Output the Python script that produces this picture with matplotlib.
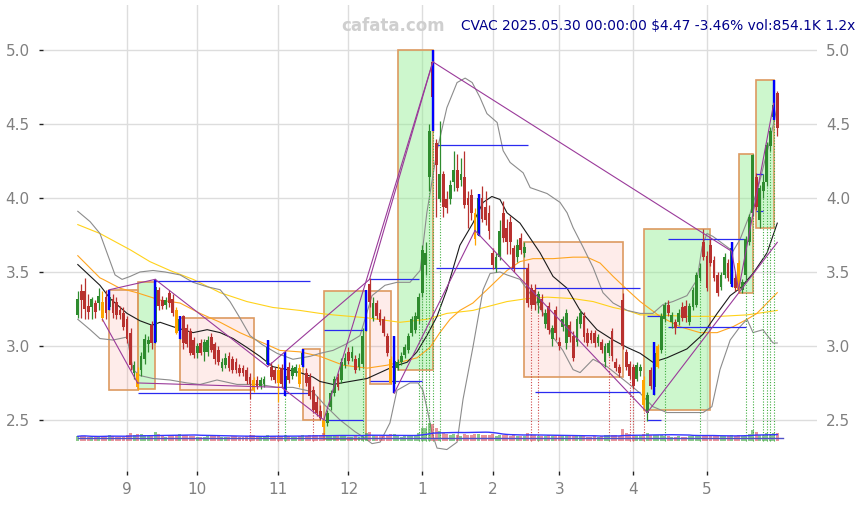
import numpy as np
import pandas as pd
import matplotlib
matplotlib.use("Agg")
import matplotlib.pyplot as plt
from matplotlib.patches import Rectangle

# ---------------- data ----------------
holidays = ["2024-09-02", "2024-11-28", "2024-12-25", "2025-01-01", "2025-01-09",
            "2025-01-20", "2025-02-17", "2025-04-18", "2025-05-26"]
dates = pd.bdate_range("2024-08-13", "2025-05-30", freq="C", holidays=holidays)

opens = [3.21, 3.37, 3.37, 3.27, 3.26, 3.29, 3.29, 3.30, 3.33, 3.26,
         3.32, 3.30, 3.24, 3.22, 3.18, 3.09, 2.82, 2.82, 2.84, 2.91,
         3.01, 3.14, 3.03, 3.38, 3.31, 3.28, 3.36, 3.32, 3.24, 3.10,
         3.20, 3.12, 3.10, 3.04, 2.95, 3.02, 2.96, 2.96, 3.06, 3.01,
         2.97, 2.85, 2.87, 2.93, 2.91, 2.89, 2.85, 2.85, 2.84, 2.79,
         2.77, 2.77, 2.73, 2.74, 2.88, 2.86, 2.84, 2.84, 2.85, 2.70,
         2.86, 2.80, 2.82, 2.85, 2.87, 2.82, 2.79, 2.70, 2.62, 2.56,
         2.50, 2.48, 2.59, 2.68, 2.79, 2.77, 2.87, 2.96, 2.92, 2.91,
         2.86, 2.88, 3.11, 3.42, 3.19, 3.29, 3.22, 3.18, 3.07, 2.91,
         2.74, 2.85, 2.89, 2.94, 2.97, 3.09, 3.11, 3.18, 3.36, 3.55,
         4.14, 4.92, 4.37, 3.99, 4.16, 3.99, 3.99, 4.11, 4.19, 4.12,
         4.14, 4.00, 4.02, 3.90, 3.75, 4.00, 3.94, 3.90, 3.63, 3.53,
         3.60, 3.90, 3.80, 3.84, 3.66, 3.60, 3.73, 3.63, 3.53, 3.39,
         3.38, 3.29, 3.32, 3.15, 3.27, 3.05, 3.24, 3.03, 3.13, 3.02,
         3.14, 3.07, 3.03, 3.15, 3.20, 3.09, 3.09, 3.09, 3.02, 3.03,
         2.89, 2.95, 3.10, 2.89, 2.86, 3.31, 2.96, 2.88, 2.86, 2.78,
         2.83, 2.77, 2.55, 2.84, 2.72, 2.86, 2.97, 3.18, 3.28, 3.16,
         3.16, 3.16, 3.26, 3.27, 3.16, 3.26, 3.28, 3.46, 3.70, 3.61,
         3.68, 3.58, 3.48, 3.40, 3.48, 3.56, 3.42, 3.46, 3.56, 3.38,
         3.48, 3.70, 3.90, 4.14, 3.85, 4.05, 4.11, 4.35, 4.55, 4.71]
highs = [3.37, 3.42, 3.46, 3.35, 3.33, 3.31, 3.39, 3.37, 3.38, 3.38,
         3.35, 3.33, 3.27, 3.26, 3.20, 3.12, 2.90, 2.86, 2.96, 3.08,
         3.07, 3.17, 3.45, 3.40, 3.34, 3.33, 3.38, 3.35, 3.26, 3.20,
         3.21, 3.15, 3.12, 3.06, 3.02, 3.05, 3.05, 3.07, 3.09, 3.03,
         3.00, 2.92, 2.95, 2.96, 2.93, 2.92, 2.88, 2.87, 2.86, 2.82,
         2.79, 2.80, 2.79, 2.80, 3.04, 2.89, 2.86, 2.88, 2.88, 2.96,
         2.89, 2.87, 2.88, 2.88, 2.98, 2.85, 2.82, 2.73, 2.66, 2.60,
         2.52, 2.57, 2.70, 2.80, 2.82, 2.92, 2.95, 2.99, 3.00, 2.94,
         2.95, 3.12, 3.38, 3.46, 3.33, 3.31, 3.25, 3.20, 3.09, 2.93,
         3.07, 2.91, 2.96, 3.01, 3.09, 3.20, 3.23, 3.36, 3.68, 3.70,
         4.50, 5.00, 4.40, 4.52, 4.18, 4.05, 4.12, 4.32, 4.30, 4.27,
         4.32, 4.05, 4.06, 3.93, 4.03, 4.08, 4.05, 3.95, 3.66, 3.63,
         3.85, 3.98, 3.86, 3.88, 3.68, 3.72, 3.76, 3.70, 3.56, 3.42,
         3.42, 3.37, 3.35, 3.25, 3.30, 3.14, 3.27, 3.06, 3.20, 3.25,
         3.17, 3.10, 3.20, 3.25, 3.23, 3.12, 3.11, 3.11, 3.08, 3.05,
         3.02, 3.04, 3.12, 2.92, 2.88, 3.36, 2.98, 2.90, 2.88, 2.89,
         2.88, 2.80, 2.69, 2.86, 3.03, 3.01, 3.22, 3.30, 3.31, 3.23,
         3.18, 3.25, 3.30, 3.31, 3.29, 3.40, 3.50, 3.56, 3.79, 3.64,
         3.72, 3.61, 3.50, 3.50, 3.63, 3.59, 3.70, 3.49, 3.58, 3.45,
         3.74, 3.89, 4.30, 4.17, 4.09, 4.16, 4.38, 4.48, 4.80, 4.72]
lows = [3.19, 3.19, 3.18, 3.18, 3.18, 3.19, 3.24, 3.17, 3.18, 3.24,
        3.19, 3.18, 3.18, 3.11, 3.02, 2.84, 2.78, 2.70, 2.80, 2.88,
        2.96, 2.98, 3.02, 3.24, 3.25, 3.25, 3.26, 3.20, 3.08, 3.05,
        2.98, 2.99, 2.94, 2.92, 2.92, 2.94, 2.90, 2.93, 2.96, 2.88,
        2.87, 2.83, 2.85, 2.83, 2.82, 2.82, 2.80, 2.80, 2.74, 2.64,
        2.69, 2.71, 2.71, 2.72, 2.87, 2.77, 2.75, 2.62, 2.72, 2.66,
        2.75, 2.78, 2.80, 2.72, 2.86, 2.73, 2.64, 2.55, 2.53, 2.50,
        2.37, 2.46, 2.57, 2.66, 2.70, 2.75, 2.85, 2.88, 2.90, 2.82,
        2.84, 2.86, 3.10, 3.26, 3.17, 3.18, 3.14, 3.07, 2.93, 2.74,
        2.68, 2.84, 2.87, 2.92, 2.95, 3.07, 3.09, 3.15, 3.33, 3.48,
        4.05, 4.45, 3.87, 3.97, 3.87, 3.90, 3.96, 4.05, 4.05, 4.08,
        3.93, 3.80, 3.85, 3.68, 3.74, 3.84, 3.82, 3.72, 3.52, 3.50,
        3.58, 3.70, 3.62, 3.62, 3.50, 3.57, 3.62, 3.60, 3.26, 3.25,
        3.24, 3.22, 3.20, 3.12, 3.08, 3.00, 3.04, 2.97, 3.10, 2.98,
        3.03, 2.90, 3.00, 3.12, 3.03, 3.00, 3.02, 2.99, 3.00, 2.95,
        2.86, 2.93, 2.90, 2.83, 2.79, 2.98, 2.84, 2.78, 2.71, 2.76,
        2.80, 2.56, 2.49, 2.71, 2.67, 2.85, 2.95, 3.16, 3.20, 3.12,
        3.08, 3.14, 3.17, 3.16, 3.14, 3.24, 3.26, 3.44, 3.58, 3.37,
        3.54, 3.44, 3.34, 3.38, 3.46, 3.44, 3.40, 3.37, 3.36, 3.36,
        3.43, 3.68, 3.88, 3.92, 3.80, 4.00, 4.08, 4.32, 4.53, 4.42]
closes = [3.32, 3.31, 3.25, 3.23, 3.32, 3.23, 3.34, 3.19, 3.22, 3.33,
          3.22, 3.21, 3.21, 3.13, 3.05, 2.87, 2.87, 2.72, 2.93, 3.05,
          3.04, 3.02, 3.40, 3.27, 3.27, 3.31, 3.29, 3.22, 3.09, 3.18,
          3.02, 3.01, 2.95, 2.94, 3.00, 2.95, 3.03, 3.04, 2.97, 2.91,
          2.89, 2.89, 2.92, 2.85, 2.84, 2.84, 2.82, 2.82, 2.76, 2.74,
          2.70, 2.73, 2.77, 2.78, 2.99, 2.79, 2.77, 2.75, 2.74, 2.80,
          2.77, 2.85, 2.86, 2.74, 2.95, 2.75, 2.66, 2.57, 2.55, 2.51,
          2.45, 2.55, 2.68, 2.78, 2.72, 2.89, 2.92, 2.90, 2.96, 2.84,
          2.92, 3.07, 3.35, 3.30, 3.29, 3.20, 3.16, 3.09, 2.95, 2.75,
          2.90, 2.89, 2.93, 2.99, 3.07, 3.18, 3.20, 3.33, 3.65, 3.63,
          4.45, 4.68, 4.22, 4.16, 3.94, 3.93, 4.09, 4.19, 4.07, 4.16,
          3.95, 3.95, 3.90, 3.72, 4.00, 3.86, 3.85, 3.78, 3.55, 3.60,
          3.78, 3.73, 3.70, 3.70, 3.53, 3.68, 3.65, 3.67, 3.29, 3.28,
          3.28, 3.35, 3.24, 3.22, 3.11, 3.12, 3.09, 3.00, 3.18, 3.22,
          3.06, 2.92, 3.18, 3.22, 3.06, 3.02, 3.04, 3.02, 3.06, 2.97,
          3.00, 3.02, 2.93, 2.85, 2.82, 3.00, 2.86, 2.80, 2.73, 2.87,
          2.86, 2.60, 2.67, 2.73, 2.95, 3.00, 3.20, 3.28, 3.22, 3.21,
          3.12, 3.22, 3.19, 3.19, 3.27, 3.38, 3.48, 3.53, 3.60, 3.39,
          3.56, 3.46, 3.36, 3.48, 3.60, 3.46, 3.66, 3.39, 3.38, 3.43,
          3.72, 3.87, 4.29, 3.94, 4.07, 4.11, 4.36, 4.45, 4.63, 4.47]
volumes_k = [520, 610, 580, 470, 430, 450, 500, 560, 610, 700, 520, 480, 430, 500,
             620, 900, 680, 820, 760, 700, 560, 540, 950, 760, 620, 500, 520, 560, 640, 780,
             700, 620, 600, 560,
             480, 460, 500, 520, 540, 580, 560, 470, 450, 500, 520, 540, 470, 450, 560, 640,
             620, 500, 470, 480, 720, 560, 520,
             600, 560, 700, 540, 480, 470, 560, 650, 580, 640, 700, 680, 720, 900, 640, 620,
             600, 540, 620, 560,
             500, 480, 520, 470, 620, 900, 950, 680, 560, 520, 540, 620, 780, 820, 560, 500,
             520, 560, 640, 600, 900,
             1500, 1400, 2000, 1900, 1400, 1100, 900, 800, 700, 760, 700, 600, 780, 700, 680,
             760, 800, 720, 640, 680,
             760, 600, 700, 720, 640, 600, 680, 560, 540, 520, 900, 700, 640, 560, 600, 540,
             620, 560, 600, 560,
             520, 560, 540, 620, 560, 520, 560, 500, 480, 520, 500, 540, 620, 660, 700, 620,
             600, 1300, 900, 760,
             700, 600, 560, 760, 880, 640, 700, 640, 720, 600, 540, 500, 480, 520, 500, 480,
             520, 560, 640, 660,
             700, 680, 620, 580, 560, 520, 560, 540, 640, 560, 620, 600, 720, 760, 1200, 1000,
             700, 680, 880, 760, 900, 854]
vol_base_level_k = 300

orange_idx = [7, 17, 28, 50, 57, 63, 70, 89, 113, 161, 165, 188]
blue_idx = [9, 22, 29, 54, 59, 64, 82, 90, 101, 114, 164, 186, 198]
red_signal_idx = [49, 57, 67, 129, 131, 151, 157, 158, 161]
green_signal_idx = [59, 81, 97, 98, 99, 100, 101, 103, 167, 177, 190, 192, 195, 196, 197, 198]

# indicator lines (bar index, price)
sma_i = [0, 6.3, 9.2, 14, 17.7, 21.1, 23.4, 27.1, 29.9, 32.8, 36.8, 40.5, 44.2, 48.1, 51.8,
         55.5, 59.5, 63.2, 66.9, 68.9, 72.6, 77.4, 82.3, 86.0, 89.7, 93.7, 96.5, 99.3, 102.2,
         105.0, 108.7, 112.4, 115.3, 117.8, 120.1, 122.1, 125.8, 131.5, 135.2, 139.2, 142.9,
         147.7, 152.3, 156.3, 160.0, 163.6, 167.6, 173.3, 177.9, 181.9, 185.6, 188.4, 192.1,
         196.1, 199]
sma_p = [3.55, 3.41, 3.32, 3.22, 3.17, 3.14, 3.16, 3.13, 3.11, 3.09, 3.11, 3.09, 3.05, 2.99,
         2.93, 2.86, 2.84, 2.82, 2.79, 2.76, 2.74, 2.76, 2.78, 2.82, 2.86, 2.89, 2.96, 3.07,
         3.20, 3.38, 3.68, 3.83, 3.97, 4.01, 3.99, 3.90, 3.83, 3.63, 3.47, 3.39, 3.24, 3.11,
         3.04, 2.99, 2.95, 2.89, 2.92, 2.98, 3.08, 3.22, 3.34, 3.39, 3.49, 3.63, 3.83]
bbu_i = [0, 3.5, 6.3, 8.6, 10.6, 12.6, 14.9, 17.7, 21.4, 24.8, 29.1, 32.8, 36.8, 40.5, 43.3,
         46.1, 49.0, 52.4, 56.7, 61.2, 66.1, 68.9, 72.6, 76.1, 80.3, 83.7, 87.4, 90.8, 94.5,
         97.4, 99.3, 102.2, 105.0, 107.9, 110.2, 112.2, 114.4, 116.4, 119.3, 121.0, 123.0,
         126.7, 128.7, 133.5, 137.2, 139.2, 140.9, 143.7, 146.6, 149.4, 152.3, 156.3, 160.0,
         163.6, 166.5, 169.3, 173.3, 176.2, 177.6, 179.0, 180.7, 184.7, 186.4, 188.4, 191.2,
         194.1, 196.9, 199]
bbu_p = [3.91, 3.84, 3.76, 3.61, 3.48, 3.45, 3.47, 3.50, 3.51, 3.50, 3.48, 3.43, 3.40, 3.38,
         3.30, 3.19, 3.07, 3.01, 2.95, 2.91, 2.93, 2.95, 2.97, 3.01, 3.07, 3.34, 3.41, 3.43,
         3.43, 3.51, 3.90, 4.32, 4.61, 4.78, 4.81, 4.78, 4.68, 4.57, 4.51, 4.32, 4.24, 4.17,
         4.07, 4.03, 3.97, 3.90, 3.80, 3.67, 3.53, 3.36, 3.29, 3.24, 3.22, 3.22, 3.28, 3.30,
         3.34, 3.45, 3.67, 3.76, 3.74, 3.67, 3.64, 3.72, 3.89, 4.12, 4.39, 4.62]
bbl_i = [0, 3.5, 6.3, 10.0, 14.0, 15.7, 17.7, 21.4, 26.2, 31.1, 34.8, 39.6, 45.3, 51.8, 56.7,
         61.2, 66.9, 70.3, 74.6, 78.9, 80.9, 83.7, 86.0, 88.8, 90.8, 94.5, 96.8, 98.2, 99.6,
         100.8, 102.2, 105.0, 107.9, 109.6, 112.4, 115.3, 117.3, 120.1, 122.1, 125.8, 130.6,
         132.4, 135.2, 138.0, 140.9, 142.9, 146.6, 150.6, 154.3, 158.0, 160.0, 163.6, 167.6,
         173.3, 177.9, 180.4, 182.7, 185.6, 188.4, 190.4, 192.1, 194.9, 197.8, 199]
bbl_p = [3.18, 3.11, 3.05, 3.04, 3.06, 2.84, 2.80, 2.78, 2.77, 2.75, 2.74, 2.77, 2.74, 2.74,
         2.72, 2.72, 2.69, 2.60, 2.50, 2.42, 2.39, 2.34, 2.35, 2.48, 2.70, 2.75, 2.75, 2.70,
         2.55, 2.41, 2.31, 2.30, 2.35, 2.64, 2.99, 3.38, 3.49, 3.50, 3.48, 3.45, 3.29, 3.22,
         3.06, 2.97, 2.84, 2.82, 2.91, 2.86, 2.79, 2.72, 2.68, 2.59, 2.55, 2.55, 2.55, 2.59,
         2.84, 3.04, 3.13, 3.18, 3.09, 3.11, 3.02, 3.02]
ma_mid_i = [0, 6.3, 7.2, 12.0, 16.8, 23.4, 29.1, 34.8, 40.5, 46.1, 51.8, 57.5, 63.2, 68.9,
            75.5, 82.3, 88.0, 91.7, 96.5, 100.2, 103.0, 105.9, 108.7, 112.4, 117.3, 122.1,
            125.8, 129.5, 135.2, 140.9, 144.9, 148.6, 152.3, 156.3, 160.0, 165.6, 171.3,
            177.0, 181.9, 186.4, 190.4, 193.2, 196.1, 199]
ma_mid_p = [3.61, 3.46, 3.45, 3.39, 3.36, 3.31, 3.29, 3.22, 3.16, 3.09, 3.03, 2.97, 2.96,
            2.93, 2.87, 2.85, 2.87, 2.89, 2.92, 2.99, 3.09, 3.18, 3.24, 3.29, 3.40, 3.51,
            3.57, 3.59, 3.59, 3.60, 3.60, 3.56, 3.47, 3.38, 3.30, 3.20, 3.13, 3.09, 3.09,
            3.13, 3.18, 3.22, 3.29, 3.36]
ma_long_i = [0, 6.3, 14.9, 20.5, 26.2, 32.8, 40.5, 48.1, 55.5, 63.2, 68.9, 72.6, 82.3, 91.7,
             99.3, 105.0, 112.4, 122.1, 127.8, 133.5, 140.9, 146.6, 152.3, 156.3, 160.0,
             163.6, 173.3, 182.7, 190.4, 199]
ma_long_p = [3.82, 3.76, 3.65, 3.57, 3.51, 3.45, 3.36, 3.30, 3.26, 3.24, 3.22, 3.21, 3.19,
             3.16, 3.18, 3.22, 3.24, 3.30, 3.32, 3.33, 3.32, 3.30, 3.26, 3.24, 3.21, 3.21,
             3.20, 3.20, 3.21, 3.24]

# zigzag segments
zz_i0 = [7, 9, 17, 22, 54, 58, 70, 83, 90, 101, 113, 186, 188, 162]
zz_p0 = [3.18, 3.38, 2.75, 3.45, 2.86, 2.72, 2.50, 3.45, 2.68, 4.92, 3.78, 3.64, 3.38, 2.55]
zz_i1 = [17, 22, 58, 54, 83, 70, 101, 101, 113, 186, 162, 188, 198, 199]
zz_p1 = [2.75, 3.45, 2.72, 2.86, 3.45, 2.50, 4.92, 4.92, 3.78, 3.64, 2.55, 3.38, 4.64, 3.70]

# boxes
box_start = [9, 17, 29, 64, 70, 83, 91, 127, 161, 188, 193]
box_end = [17, 22, 50, 69, 82, 89, 101, 155, 180, 192, 198]
box_top = [3.38, 3.43, 3.19, 2.98, 3.37, 3.37, 5.00, 3.70, 3.79, 4.30, 4.80]
box_bottom = [2.70, 2.71, 2.70, 2.50, 2.37, 2.74, 2.84, 2.79, 2.57, 3.36, 3.80]
box_up = [False, True, False, False, True, False, True, False, True, True, True]

# horizontal levels
lvl_start = [22, 17, 70, 70, 83, 83, 102, 102, 130, 130, 162, 162, 168, 168, 193, 193]
lvl_end = [66, 66, 81, 81, 98, 97, 128, 128, 160, 160, 166, 166, 190, 190, 195, 195]
lvl_price = [3.44, 2.68, 3.11, 2.50, 2.76, 3.45, 4.36, 3.53, 3.39, 2.69, 3.20, 2.50, 3.72,
             3.13, 4.16, 3.91]

title_text = "CVAC 2025.05.30 00:00:00 $4.47 -3.46% vol:854.1K 1.2x"
watermark = "cafata.com"

# ---------------- drawing ----------------
O = np.array(opens); H = np.array(highs); L = np.array(lows); C = np.array(closes)
V = np.array(volumes_k, dtype=float)
n = len(C)
x = np.arange(n)

W, Hh = 864, 505
fig = plt.figure(figsize=(W / 100, Hh / 100), dpi=100)
ax_left, ax_right, ax_bot, ax_top = 43, 817, 471, 5
ax = fig.add_axes([ax_left / W, 1 - ax_bot / Hh, (ax_right - ax_left) / W, (ax_bot - ax_top) / Hh])
xlim = (-9.9, 210.3)
ylim = (2.155, 5.304)
ax.set_xlim(*xlim)
ax.set_ylim(*ylim)
for s in ax.spines.values():
    s.set_visible(False)

# month ticks
month_pos = [i for i in range(1, n) if dates[i].month != dates[i - 1].month]
ax.set_xticks(month_pos)
ax.set_xticklabels([str(dates[i].month) for i in month_pos])
yt = [2.5, 3.0, 3.5, 4.0, 4.5, 5.0]
ax.set_yticks(yt)
ax.set_yticklabels([f"{v:.1f}" for v in yt])
ax.grid(True, color="#dddddd", lw=1.0, zorder=0)
ax.set_axisbelow(True)
ax.tick_params(axis="x", length=3, width=1, color="#222222", labelcolor="#808080",
               labelsize=11, pad=5)
ax.tick_params(axis="y", length=3, width=1, color="#222222", labelcolor="#808080",
               labelsize=11, pad=6.5)

axr = ax.twinx()
axr.set_ylim(*ylim)
axr.set_yticks(yt)
axr.set_yticklabels([f"{v:.1f}" for v in yt])
axr.tick_params(axis="y", length=0, labelcolor="#808080", labelsize=11, pad=6.5)
for s in axr.spines.values():
    s.set_visible(False)

# boxes
for s0, s1, t, b, upb in zip(box_start, box_end, box_top, box_bottom, box_up):
    fc = (0.565, 0.933, 0.565, 0.45) if upb else (0.98, 0.50, 0.45, 0.15)
    ax.add_patch(Rectangle((s0, b), s1 - s0, t - b, facecolor=fc, edgecolor="#dd9a60",
                           lw=1.2, zorder=1))

# indicator lines
ax.plot(ma_long_i, ma_long_p, color="#ffd21a", lw=0.8, zorder=2)
ax.plot(ma_mid_i, ma_mid_p, color="#ffa520", lw=0.8, zorder=2)
ax.plot(bbu_i, bbu_p, color="#8c8c8c", lw=0.8, zorder=2)
ax.plot(bbl_i, bbl_p, color="#8c8c8c", lw=0.8, zorder=2)
ax.plot(sma_i, sma_p, color="#1a1a1a", lw=0.8, zorder=2)

# signal dotted lines
for i in red_signal_idx:
    ax.vlines(i, 2.36, L[i], colors="#d04a4a", lw=0.8, linestyles=(0, (1, 1.5)), zorder=2)
for i in green_signal_idx:
    ax.vlines(i, 2.36, L[i], colors="#3fae3f", lw=0.8, linestyles=(0, (1, 1.5)), zorder=2)

# horizontal levels
for s0, s1, p in zip(lvl_start, lvl_end, lvl_price):
    ax.hlines(p, s0, s1, colors="#2a2af0", lw=0.9, zorder=3)

# candles
up = C >= O
colors = ["#2e8b2e" if u else "#b8312f" for u in up]
for i in orange_idx:
    colors[i] = "#ffa500"
body_lo = np.minimum(O, C)
body_h = np.maximum(np.abs(C - O), 0.008)
ax.vlines(x, L, H, colors=colors, lw=0.9, zorder=4)
ax.bar(x, body_h, bottom=body_lo, width=0.8, color=colors, linewidth=0, zorder=4)
bi = np.array(blue_idx)
ax.vlines(bi, L[bi], H[bi], colors="#0000ff", lw=1.7, zorder=5)

# zigzag
for a0, b0, a1, b1 in zip(zz_i0, zz_p0, zz_i1, zz_p1):
    ax.plot([a0, a1], [b0, b1], color="#9a3a9a", lw=0.8, zorder=5)

# volume panel
axv = ax.inset_axes([0, (ax_bot - 441) / (ax_bot - ax_top), 1, 0.1])
axv.set_xlim(*xlim)
axv.set_ylim(0, 5200)
axv.axis("off")
vcol = [(0.25, 0.65, 0.25, 0.6) if u else (0.85, 0.3, 0.35, 0.6) for u in up]
axv.bar(x, V, width=0.85, color=vcol, linewidth=0)
vma = pd.Series(V).rolling(20, min_periods=1).mean()
axv.plot(x, vma, color="#3535ff", lw=1.0)
axv.plot([x[0], x[-1] + 1.5], [vol_base_level_k, vol_base_level_k], color="#5050c8", lw=1.0)

# texts
fig.text(0.455, 1 - 26 / Hh, watermark, color="#cfcfcf", fontsize=12, fontweight="bold",
         ha="center", va="center")
fig.text(855 / W, 1 - 26 / Hh, title_text, color="#00008b", fontsize=9.95, ha="right",
         va="center")

fig.savefig("out.png", dpi=100)
